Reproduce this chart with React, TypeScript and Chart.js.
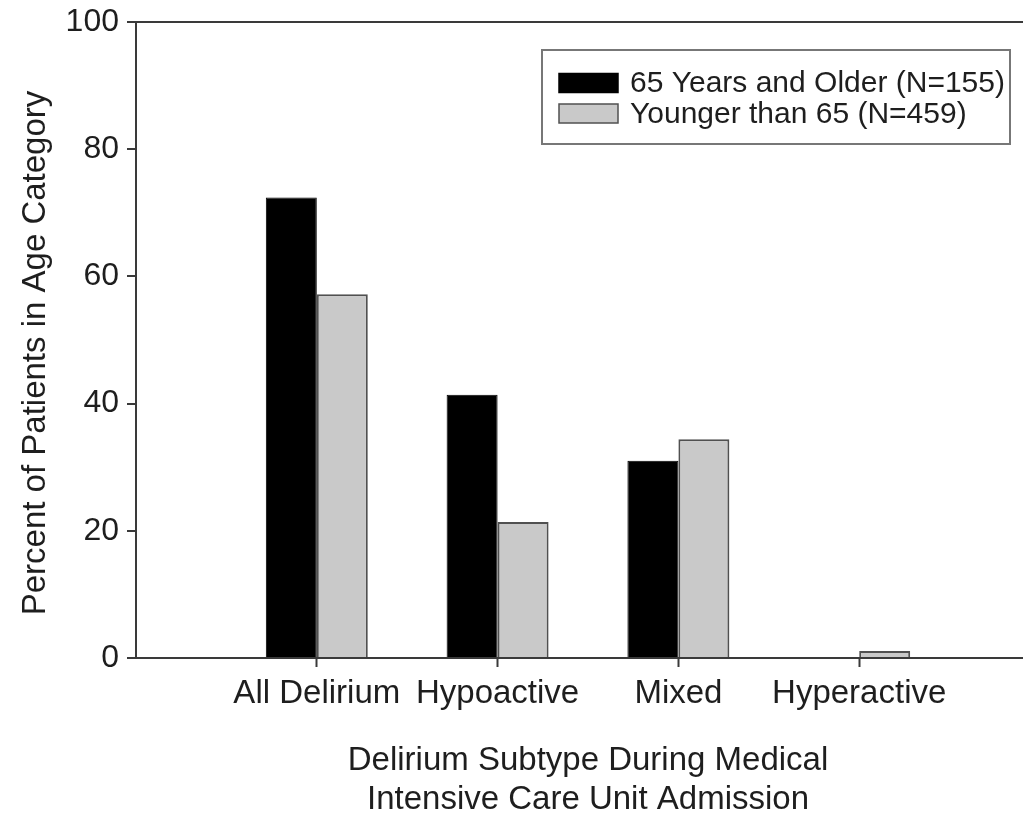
import React, { useEffect, useRef } from 'react';
import { Chart, registerables } from 'chart.js';

Chart.register(...registerables);

const categories = ['All Delirium', 'Hypoactive', 'Mixed', 'Hyperactive'];
const categoryPositions = [1, 2, 3, 4];
const olderValues = [72.4, 41.4, 31.0, 0];
const youngerValues = [57.2, 21.4, 34.4, 1.1];
const seriesLabels = ['65 Years and Older (N=155)', 'Younger than 65 (N=459)'];
const yTickValues = [0, 20, 40, 60, 80, 100];
const xTitleLines = ['Delirium Subtype During Medical', 'Intensive Care Unit Admission'];
const yTitle = 'Percent of Patients in Age Category';

const FONT = '"Liberation Sans", Arial, Helvetica, sans-serif';
const TEXT = '#1e1e1e';
const AXIS = '#3a3a3a';

const boxLegend = {
  id: 'boxLegend',
  afterDraw(chart: any) {
    const { ctx, chartArea } = chart;
    const w = 468;
    const h = 94;
    const right = chartArea.right - 30;
    const left = right - w;
    const top = chartArea.top + 28;
    ctx.save();
    ctx.fillStyle = '#ffffff';
    ctx.fillRect(left, top, w, h);
    ctx.strokeStyle = '#777777';
    ctx.lineWidth = 2;
    ctx.strokeRect(left, top, w, h);
    chart.data.datasets.forEach((ds: any, i: number) => {
      const cy = top + 33 + i * 30.5;
      const sx = left + 17;
      ctx.fillStyle = ds.backgroundColor;
      ctx.fillRect(sx, cy - 9.5, 59, 19);
      ctx.strokeStyle = ds.borderColor;
      ctx.lineWidth = 1.5;
      ctx.strokeRect(sx, cy - 9.5, 59, 19);
      ctx.fillStyle = TEXT;
      ctx.font = `30px ${FONT}`;
      ctx.textBaseline = 'middle';
      ctx.textAlign = 'left';
      ctx.fillText(ds.label, sx + 71, cy + 1);
    });
    // y axis title
    ctx.translate(36, (chartArea.top + chartArea.bottom) / 2 + 13);
    ctx.rotate(-Math.PI / 2);
    ctx.fillStyle = TEXT;
    ctx.font = `33px ${FONT}`;
    ctx.textAlign = 'center';
    ctx.textBaseline = 'middle';
    ctx.fillText(yTitle, 0, 0);
    ctx.restore();
  },
};

export default function App() {
  const canvasRef = useRef<HTMLCanvasElement | null>(null);

  useEffect(() => {
    if (!canvasRef.current) return;
    const chart = new Chart(canvasRef.current, {
      type: 'bar',
      data: {
        datasets: [
          {
            label: seriesLabels[0],
            data: categoryPositions.map((x, i) => ({ x, y: olderValues[i] })),
            backgroundColor: '#000000',
            borderColor: '#000000',
            borderWidth: 1,
          },
          {
            label: seriesLabels[1],
            data: categoryPositions.map((x, i) => ({ x, y: youngerValues[i] })),
            backgroundColor: '#c9c9c9',
            borderColor: '#505050',
            borderWidth: 2,
          },
        ],
      },
      options: {
        responsive: false,
        animation: false,
        categoryPercentage: 0.564,
        barPercentage: 1,
        layout: { padding: { top: 22, right: 0, bottom: 0, left: 0 } },
        plugins: {
          legend: { display: false },
          tooltip: { enabled: false },
        },
        scales: {
          x: {
            type: 'linear',
            min: 0,
            max: 5,
            offset: false,
            afterBuildTicks: (scale: any) => {
              scale.ticks = categoryPositions.map((v) => ({ value: v }));
            },
            afterFit: (scale: any) => {
              scale.height = 156;
              scale.paddingLeft = 0;
              scale.paddingRight = 0;
            },
            ticks: {
              callback: (value: any) => categories[categoryPositions.indexOf(Number(value))] ?? '',
              color: TEXT,
              font: { family: FONT, size: 33 },
              padding: 7,
              maxRotation: 0,
              autoSkip: false,
            },
            grid: {
              offset: false,
              drawOnChartArea: false,
              drawTicks: true,
              tickLength: 9,
              tickColor: AXIS,
              tickWidth: 2,
            },
            border: { display: true, color: AXIS, width: 2 },
            title: {
              display: true,
              text: xTitleLines,
              color: TEXT,
              font: { family: FONT, size: 33, lineHeight: 1.2 },
              padding: { top: 0, bottom: -6 },
            },
          },
          y: {
            min: 0,
            max: 100,
            afterBuildTicks: (scale: any) => {
              scale.ticks = yTickValues.map((v) => ({ value: v }));
            },
            afterFit: (scale: any) => {
              scale.width = 136;
              scale.paddingTop = 0;
              scale.paddingBottom = 0;
            },
            ticks: {
              color: TEXT,
              font: { family: FONT, size: 32 },
              padding: 8,
            },
            grid: {
              drawOnChartArea: true,
              color: (ctx: any) => (ctx.tick && ctx.tick.value === 100 ? AXIS : 'rgba(0,0,0,0)'),
              lineWidth: 2,
              tickLength: 9,
              tickColor: AXIS,
              tickWidth: 2,
            },
            border: { display: true, color: AXIS, width: 2 },
          },
        },
      } as any,
      plugins: [boxLegend],
    });
    return () => chart.destroy();
  }, []);

  return (
    <div style={{ position: 'fixed', left: 0, top: 0, width: 1023, height: 814, overflow: 'hidden', background: '#ffffff' }}>
      <canvas ref={canvasRef} width={1040} height={814} style={{ width: 1040, height: 814, display: 'block' }} />
    </div>
  );
}
